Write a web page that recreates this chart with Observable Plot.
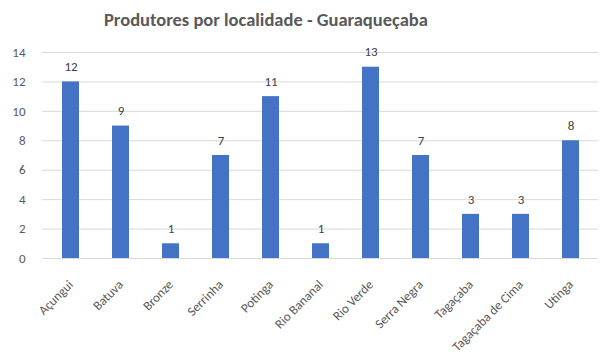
<!DOCTYPE html>
<html><head><meta charset="utf-8">
<script src="https://cdn.jsdelivr.net/npm/d3@7"></script>
<script src="https://cdn.jsdelivr.net/npm/@observablehq/plot@0.6"></script>
<style>
body{margin:0;background:#fff;font-family:Calibri,Carlito,"Liberation Sans",Arial,sans-serif;}
#title{height:34px;line-height:40px;white-space:nowrap;font-size:18.5px;font-weight:bold;color:#595959;padding-left:104px;}
</style></head>
<body>
<div id="title">Produtores por localidade - Guaraqueçaba</div>
<div id="chart"></div>
<script>
const localidades = ["Açungui","Batuva","Bronze","Serrinha","Potinga","Rio Bananal","Rio Verde","Serra Negra","Tagaçaba","Tagaçaba de Cima","Utinga"];
const produtores = [12,9,1,7,11,1,13,7,3,3,8];
const yTicks = [0,2,4,6,8,10,12,14];
const data = localidades.map((l,i)=>({l, v: produtores[i]}));
const chart = Plot.plot({
  width: 611, height: 324,
  marginTop: 18, marginBottom: 100, marginLeft: 42, marginRight: 13,
  style: {fontFamily: "Calibri, Carlito, 'Liberation Sans', Arial, sans-serif", fontSize: "13px", color: "#595959"},
  x: {domain: localidades, paddingInner: 0.66, paddingOuter: 0.33, label: null},
  y: {domain: [0,14], ticks: yTicks, label: null},
  marks: [
    Plot.gridY(yTicks, {stroke: "#d9d9d9", strokeOpacity: 1}),
    Plot.barY(data, {x: "l", y: "v", fill: "#4472C4"}),
    Plot.text(data, {x: "l", y: "v", text: d => String(d.v), dy: -15, fill: "#404040", fontSize: 13}),
    Plot.axisY({ticks: yTicks, tickSize: 0, tickPadding: 17, fill: "#595959"}),
    Plot.axisX({tickSize: 0, tickRotate: -45, tickPadding: 24, fill: "#595959"})
  ]
});
document.getElementById("chart").appendChild(chart);
</script>
</body></html>
